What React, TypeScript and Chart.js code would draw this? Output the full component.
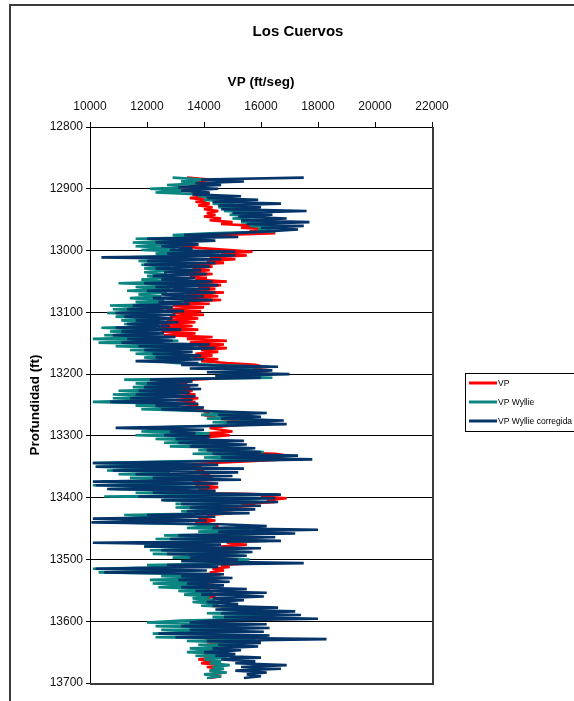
import React, { useEffect, useRef } from "react";
import { Chart, registerables } from "chart.js";

Chart.register(...registerables);

const TITLE = "Los Cuervos";
const X_TITLE = "VP (ft/seg)";
const Y_TITLE = "Profundidad (ft)";
const SERIES_NAMES = ["VP", "VP Wyllie", "VP Wyllie corregida"];
const SERIES_COLORS = ["#ff0000", "#0b8582", "#043468"];

const X_TICKS = [10000, 12000, 14000, 16000, 18000, 20000, 22000];
const Y_TICKS = [12800, 12900, 13000, 13100, 13200, 13300, 13400, 13500, 13600, 13700];

const DEPTH = [
  12882,12885,12888,12891,12894,12897,12900,12903,12906,12909,
  12912,12915,12918,12921,12924,12927,12930,12933,12936,12939,
  12942,12945,12948,12951,12954,12957,12960,12963,12966,12969,
  12972,12975,12978,12981,12984,12987,12990,12993,12996,12999,
  13002,13005,13008,13011,13014,13017,13020,13023,13026,13029,
  13032,13035,13038,13041,13044,13047,13050,13053,13056,13059,
  13062,13065,13068,13071,13074,13077,13080,13083,13086,13089,
  13092,13095,13098,13101,13104,13107,13110,13113,13116,13119,
  13122,13125,13128,13131,13134,13137,13140,13143,13146,13149,
  13152,13155,13158,13161,13164,13167,13170,13173,13176,13179,
  13182,13185,13188,13191,13194,13197,13200,13203,13206,13209,
  13212,13215,13218,13221,13224,13227,13230,13233,13236,13239,
  13242,13245,13248,13251,13254,13257,13260,13263,13266,13269,
  13272,13275,13278,13281,13284,13287,13290,13293,13296,13299,
  13302,13305,13308,13311,13314,13317,13320,13323,13326,13329,
  13332,13335,13338,13341,13344,13347,13350,13353,13356,13359,
  13362,13365,13368,13371,13374,13377,13380,13383,13386,13389,
  13392,13395,13398,13401,13404,13407,13410,13413,13416,13419,
  13422,13425,13428,13431,13434,13437,13440,13443,13446,13449,
  13452,13455,13458,13461,13464,13467,13470,13473,13476,13479,
  13482,13485,13488,13491,13494,13497,13500,13503,13506,13509,
  13512,13515,13518,13521,13524,13527,13530,13533,13536,13539,
  13542,13545,13548,13551,13554,13557,13560,13563,13566,13569,
  13572,13575,13578,13581,13584,13587,13590,13593,13596,13599,
  13602,13605,13608,13611,13614,13617,13620,13623,13626,13629,
  13632,13635,13638,13641,13644,13647,13650,13653,13656,13659,
  13662,13665,13668,13671,13674,13677,13680,13683,13686,13689,
  13692,
];

const VP = [
  13400,14200,13600,14300,13500,13900,13200,13800,13600,13600,
  14000,13500,14100,13700,14200,13800,14300,14000,14500,14100,
  14400,14000,14600,14200,15000,14600,15900,15300,16300,15600,
  16500,14400,13500,13200,13800,13300,13800,13200,13900,14900,
  15700,14600,15500,14200,15100,14100,14700,13500,14300,13600,
  14200,13300,14300,13500,14100,13700,14800,13600,14600,13800,
  14400,13200,14700,13400,14500,13200,14600,13300,14200,12900,
  14000,12700,13900,12900,14000,12800,13800,12700,13700,12500,
  13600,12400,13800,12500,13700,12600,14300,13400,14800,13500,
  14700,13800,14800,13900,14500,13700,14300,13600,14500,13900,
  14800,15800,16100,15700,16300,15600,16200,15400,14900,13600,
  13200,13400,12900,13500,12900,13600,13000,13700,13100,13800,
  13000,13700,13200,13800,13300,13900,14000,14200,14000,14300,
  14500,15400,14700,15600,14800,14200,14600,15000,14100,14900,
  14100,13800,13700,13900,13600,13900,14200,15100,14600,16500,
  16900,16400,16800,15600,14300,13400,13900,13600,14000,13700,
  14200,13800,14300,13900,13600,14400,13700,14500,13800,14400,
  13600,16400,16000,16900,16200,16500,15300,15800,14700,15200,
  14000,15000,14100,14300,13800,14400,13700,14300,14500,14200,
  14600,14300,15400,14700,15800,14600,15900,14800,15500,14600,
  15400,14500,15200,14200,15000,14300,14900,14600,15700,14600,
  14900,14300,14700,14200,14600,14100,14500,14000,14400,13900,
  14300,14000,14200,14000,14300,14100,14400,14000,14300,14100,
  14500,14200,15200,14700,15600,15000,15800,15300,16000,14200,
  13800,14600,13600,14500,13900,14400,13800,14500,13900,14600,
  14000,14700,14100,14600,14200,14500,13900,14300,14000,14200,
  13800,14400,13900,14700,14100,14600,14200,14700,14300,14600,
  14200,
];

const VP_WYLLIE = [
  12900,14000,13200,13900,12700,13600,12100,13300,12300,13900,
  13800,14800,14000,15200,14300,15400,14500,15900,14700,16000,
  14900,15800,15000,16200,15300,16300,15600,16700,15900,16500,
  14200,12900,14100,11600,14300,11500,13100,11600,13000,11800,
  13400,12300,13700,11400,13500,11700,12900,11800,12800,11900,
  12900,11900,12700,12000,12800,11800,12900,11000,13100,11600,
  12800,11300,12700,11700,12500,11400,12600,11600,13000,10700,
  12900,10800,12400,10600,12500,10900,12200,11100,12000,11200,
  12300,10400,12000,10700,12400,10500,12800,10100,13100,10300,
  12900,10900,13000,11400,13200,11600,13100,11900,12800,12400,
  13000,14300,16300,14800,15900,14600,16200,14400,16400,11200,
  13500,11600,13200,11500,13300,11000,13100,10800,13000,10800,
  12500,10100,12900,11600,13100,11800,14100,15500,13900,15800,
  14100,16600,14300,16300,13900,12000,13000,11800,14200,11600,
  14000,12300,14400,12600,14600,12800,15700,13800,16100,13600,
  16500,14000,17100,13200,10100,12900,10200,13200,10600,12800,
  11000,13800,11400,14000,10400,13900,10100,14100,10700,13500,
  11600,16600,10500,16400,12600,15900,13000,15400,13000,15300,
  13200,14700,11200,13300,11000,13200,10900,13600,14400,13400,
  15600,13800,16500,12600,16100,12300,16200,11500,13200,11900,
  15100,12100,15600,12200,15400,12900,15600,14300,15700,12000,
  13300,10100,13200,10300,14400,12500,14600,12100,13800,12200,
  13900,12400,14100,13100,14300,13300,14200,13600,14400,13600,
  14500,13900,15900,15000,16200,14100,16100,14300,16200,13200,
  12000,14600,12300,14900,12500,14700,12200,16200,12300,15800,
  13400,15500,13800,15300,13500,14700,13400,14700,13700,14800,
  14000,14600,14200,14900,14300,14700,14200,14800,14000,14600,
  14100,
];

const VP_WYLLIE_CORR = [
  17500,13900,15400,13700,14600,13100,14500,13200,14200,13600,
  15300,14100,15900,14300,16700,14500,16000,14600,17600,15000,
  16400,15200,16900,15300,17700,15500,17500,16000,17300,16200,
  15000,13300,15200,12000,14400,12300,13800,12500,13600,12800,
  15100,12700,15100,10400,14600,12000,14400,11900,14200,12300,
  13900,12600,14100,12200,13700,12500,14300,11900,14500,12300,
  14200,12000,14400,12500,14000,12200,14300,12400,13500,11500,
  12900,11300,13300,10900,13000,11200,12900,11600,13100,11300,
  12800,10900,13200,11100,12600,10800,13000,11300,12900,11100,
  14200,11700,14400,11900,13600,12200,13900,12300,14000,11600,
  13800,13200,16600,13500,16400,14100,17000,14400,16000,12100,
  13600,12000,13800,11900,13900,11700,13500,11600,13700,11400,
  13600,10700,13800,12300,14000,12500,14300,16200,14500,16000,
  14600,16800,14800,16900,14200,10900,14000,12800,13700,12600,
  14200,13000,15400,13100,15500,13500,15800,14100,16000,14300,
  17300,14600,17800,14200,10100,14500,10200,15400,10800,15200,
  11600,15000,12200,15300,10100,14500,10200,14200,10600,14400,
  12200,16700,11700,16500,12500,16600,13200,16000,13500,15800,
  13400,15600,12000,14400,10100,14100,10050,14600,16200,14300,
  18000,14500,17200,13100,16500,12800,16700,10100,14600,11900,
  16000,12500,15700,12700,15500,13500,15200,13200,17500,12700,
  14500,10200,14100,10500,14700,13200,15000,13100,14900,13400,
  14700,13200,15500,13700,16200,13900,16100,14300,15400,14100,
  15200,14300,16600,14400,17200,14600,17400,14700,18000,14300,
  13500,16200,13200,16300,13500,16100,12400,16300,13000,18300,
  14100,16000,14500,15900,14300,15300,14000,15100,14400,16000,
  14600,15800,15100,16900,15300,16700,15100,16200,15500,16000,
  15400,
];

const FONT = "'Liberation Sans', Arial, sans-serif";

function toPoints(values: number[]) {
  const n = Math.min(values.length, DEPTH.length);
  const pts: { x: number; y: number }[] = [];
  for (let i = 0; i < n; i++) pts.push({ x: values[i], y: DEPTH[i] });
  return pts;
}

const decorPlugin = {
  id: "decor",
  beforeDraw(chart: any) {
    const ctx = chart.ctx;
    ctx.save();
    ctx.fillStyle = "#ffffff";
    ctx.fillRect(0, 0, chart.width, chart.height);
    ctx.strokeStyle = "#3c3c3c";
    ctx.lineWidth = 2;
    ctx.strokeRect(10, 5, chart.width + 40, chart.height + 40);
    ctx.restore();
  },
  afterDraw(chart: any) {
    const { ctx, chartArea } = chart;
    ctx.save();
    // plot area right/bottom border
    ctx.strokeStyle = "#3a3a3a";
    ctx.lineWidth = 2;
    ctx.beginPath();
    ctx.moveTo(chartArea.right + 1, chartArea.top);
    ctx.lineTo(chartArea.right + 1, chartArea.bottom + 1);
    ctx.lineTo(chartArea.left, chartArea.bottom + 1);
    ctx.stroke();

    // legend
    const lx = 465;
    const ly = 373;
    ctx.strokeStyle = "#000";
    ctx.lineWidth = 1;
    ctx.strokeRect(lx + 0.5, ly + 0.5, 200, 58);
    ctx.font = `8.5px ${FONT}`;
    ctx.textBaseline = "middle";
    ctx.textAlign = "left";
    chart.data.datasets.forEach((ds: any, i: number) => {
      const y = ly + 10 + i * 19;
      ctx.strokeStyle = ds.borderColor;
      ctx.lineWidth = 3;
      ctx.beginPath();
      ctx.moveTo(lx + 4, y);
      ctx.lineTo(lx + 32, y);
      ctx.stroke();
      ctx.fillStyle = "#000";
      ctx.fillText(ds.label, lx + 33, y + 0.5);
    });
    ctx.restore();
  },
};

export default function App() {
  const ref = useRef<HTMLCanvasElement | null>(null);

  useEffect(() => {
    if (!ref.current) return;
    const series = [VP, VP_WYLLIE, VP_WYLLIE_CORR];
    const chart = new Chart(ref.current, {
      type: "scatter",
      data: {
        datasets: series.map((vals, i) => ({
          label: SERIES_NAMES[i],
          data: toPoints(vals),
          showLine: true,
          borderColor: SERIES_COLORS[i],
          backgroundColor: SERIES_COLORS[i],
          borderWidth: 2.6,
          borderJoinStyle: "bevel" as const,
          pointRadius: 0,
          pointHoverRadius: 0,
          tension: 0,
          order: 3 - i,
        })),
      },
      options: {
        animation: false,
        responsive: false,
        events: [],
        layout: { padding: { left: 0, top: 0, right: 0, bottom: 18 } },
        plugins: {
          legend: { display: false },
          tooltip: { enabled: false },
          title: {
            display: true,
            text: TITLE,
            color: "#000",
            font: { family: FONT, size: 15, weight: "bold" },
            padding: { top: 23, bottom: 0 },
          },
        },
        scales: {
          x: {
            type: "linear",
            position: "top",
            min: X_TICKS[0],
            max: X_TICKS[X_TICKS.length - 1],
            afterBuildTicks: (s: any) => {
              s.ticks = X_TICKS.map((v) => ({ value: v }));
            },
            afterFit: (s: any) => {
              s.height = 86;
            },
            ticks: {
              color: "#111",
              font: { family: FONT, size: 12 },
              padding: 8,
              maxRotation: 0,
              callback: (v: any) => String(v),
            },
            grid: {
              display: true,
              drawOnChartArea: false,
              drawTicks: true,
              tickLength: 5,
              color: "#000",
            },
            border: { display: true, color: "#000", width: 1 },
            title: {
              display: true,
              text: X_TITLE,
              color: "#000",
              font: { family: FONT, size: 13.5, weight: "bold" },
              padding: { top: 33, bottom: 0 },
            },
          },
          y: {
            type: "linear",
            position: "left",
            reverse: true,
            min: Y_TICKS[0],
            max: Y_TICKS[Y_TICKS.length - 1],
            afterBuildTicks: (s: any) => {
              s.ticks = Y_TICKS.map((v) => ({ value: v }));
            },
            afterFit: (s: any) => {
              s.width = 90;
            },
            ticks: {
              color: "#111",
              font: { family: FONT, size: 12 },
              padding: 3,
              callback: (v: any) => String(v),
            },
            grid: {
              display: true,
              drawOnChartArea: true,
              drawTicks: true,
              tickLength: 4,
              color: "#000",
              lineWidth: 1,
            },
            border: { display: true, color: "#000", width: 1 },
            title: {
              display: true,
              text: Y_TITLE,
              color: "#000",
              font: { family: FONT, size: 13.5, weight: "bold" },
              padding: { top: 27, bottom: 0 },
            },
          },
          spacer: {
            type: "linear",
            position: "right",
            display: true,
            afterFit: (s: any) => {
              s.width = 164;
            },
            ticks: { display: false },
            grid: { display: false, drawTicks: false },
            border: { display: false },
          },
        },
      } as any,
      plugins: [decorPlugin],
    });
    return () => chart.destroy();
  }, []);

  return (
    <div
      style={{
        position: "absolute",
        left: 0,
        top: 0,
        width: 574,
        height: 701,
        overflow: "hidden",
        background: "#fff",
      }}
    >
      <canvas
        ref={ref}
        width={596}
        height={701}
        style={{ display: "block", width: 596, height: 701 }}
      />
    </div>
  );
}
